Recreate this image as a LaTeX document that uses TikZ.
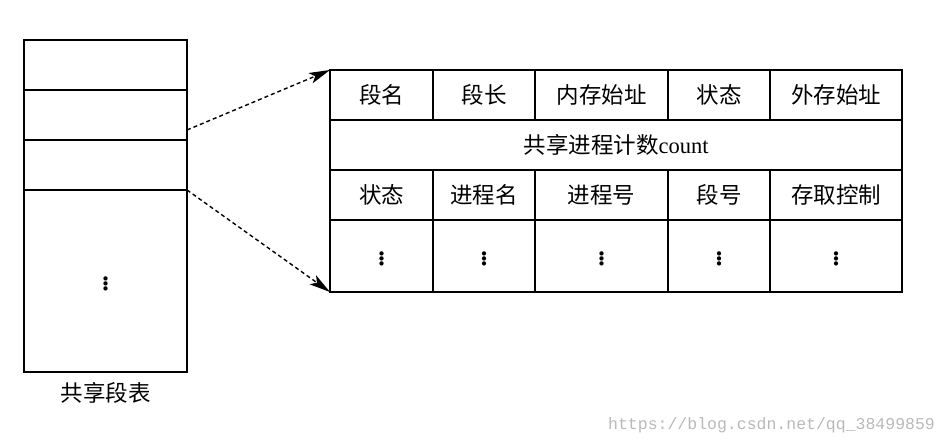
\documentclass[tikz,border=0pt]{standalone}
\usepackage{fontspec}
\setmainfont{Liberation Serif}
\newfontfamily\cjk{Noto Sans CJK SC}
\newfontfamily\urlfont{Liberation Mono}
\usetikzlibrary{arrows.meta,positioning}

\begin{document}
\begin{tikzpicture}[x=1pt,y=-1pt,>={Stealth[length=21pt,width=11pt,inset=5pt]},node distance=0pt,line width=2.2pt]
	\tikzstyle{cell}=[draw=black,outer sep=0pt,inner sep=0pt,minimum height=50pt,font=\fontsize{22.5}{22.5}\selectfont\cjk]
	\tikzstyle{dots}=[cell,minimum height=72pt,font=\fontsize{36}{36}\selectfont]
	\tikzstyle{link}=[->,dash pattern=on 4pt off 3pt,line width=1.4pt]
	\useasboundingbox (0,0) rectangle (948,446);
	% shared segment table
	\node[cell,minimum width=163pt] (s1) at (105.5,65) {};
	\node[cell,minimum width=163pt] (s2) [below=of s1] {};
	\node[cell,minimum width=163pt] (s3) [below=of s2] {};
	\node[dots,minimum width=163pt,minimum height=182pt] (s4) [below=of s3] {$\vdots$};
	\node[font=\fontsize{22.5}{22.5}\selectfont\cjk,inner sep=0pt] (title) [below=9pt of s4] {共享段表};

	% entry of the table
	\node[cell,minimum width=103pt] (r1c1) at (381.5,95) {段名};
	\node[cell,minimum width=102pt] (r1c2) [right=of r1c1] {段长};
	\node[cell,minimum width=133pt] (r1c3) [right=of r1c2] {内存始址};
	\node[cell,minimum width=102pt] (r1c4) [right=of r1c3] {状态};
	\node[cell,minimum width=132pt] (r1c5) [right=of r1c4] {外存始址};

	\node[cell,minimum width=572pt,font=\fontsize{22.5}{22.5}\selectfont] (cnt) [below right=of r1c1.south west] {{\cjk 共享进程计数}count};

	\node[cell,minimum width=103pt,anchor=north west] (r3c1) at (cnt.south west) {状态};
	\node[cell,minimum width=102pt] (r3c2) [right=of r3c1] {进程名};
	\node[cell,minimum width=133pt] (r3c3) [right=of r3c2] {进程号};
	\node[cell,minimum width=102pt] (r3c4) [right=of r3c3] {段号};
	\node[cell,minimum width=132pt] (r3c5) [right=of r3c4] {存取控制};

	\node[dots,minimum width=103pt] (r4c1) [below=of r3c1] {$\vdots$};
	\node[dots,minimum width=102pt] (r4c2) [right=of r4c1] {$\vdots$};
	\node[dots,minimum width=133pt] (r4c3) [right=of r4c2] {$\vdots$};
	\node[dots,minimum width=102pt] (r4c4) [right=of r4c3] {$\vdots$};
	\node[dots,minimum width=132pt] (r4c5) [right=of r4c4] {$\vdots$};

	\draw[link] ([yshift=10pt]s2.south east) -- (r1c1.north west);
	\draw[link] (s3.south east) -- (r4c1.south west);

	%\node ... watermark
	\node[text=gray!55,font=\urlfont\fontsize{16.5}{16.5}\selectfont,inner sep=0pt,anchor=east] (url) at (936,425) {https://blog.csdn.net/qq\_38499859};
\end{tikzpicture}
\end{document}
